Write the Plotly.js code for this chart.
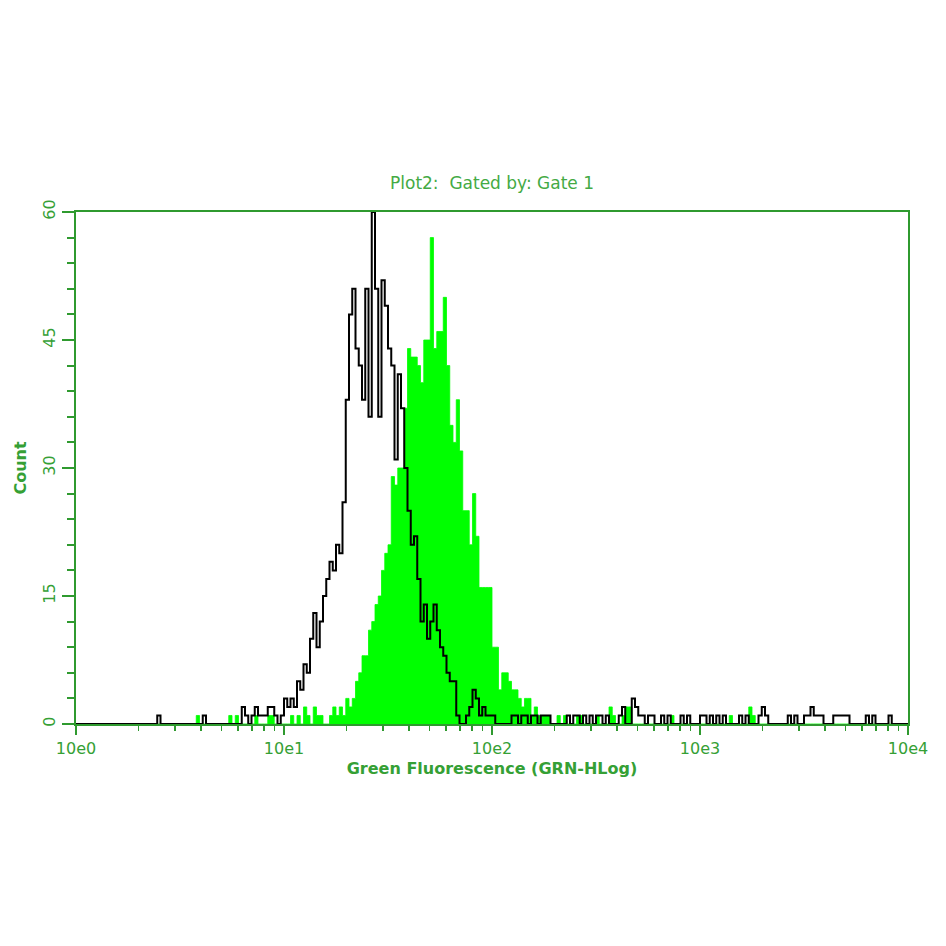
<!DOCTYPE html>
<html>
<head>
<meta charset="utf-8">
<script src="https://cdn.plot.ly/plotly-3.0.1.min.js"></script>
<style>html,body{margin:0;padding:0;background:#fff;}#chart{width:946px;height:946px;}</style>
</head>
<body>
<div id="chart"></div>
<script>
// 256 log channels spanning 10e0 .. 10e4
const channelCount = 256;
const decades = 4;

// Gated sample (green, filled) counts per channel
const greenCounts = [
  0,0,0,0,0,0,0,0,0,0,0,0,0,0,0,0,
  0,0,0,0,0,0,0,0,0,0,0,0,0,0,0,0,
  0,0,0,0,0,1,0,0,0,0,0,0,0,0,0,1,
  0,1,0,0,0,0,0,1,0,0,0,1,1,0,0,0,
  0,0,1,0,1,0,2,1,0,2,1,1,0,0,1,2,
  1,2,1,3,2,3,5,6,8,8,11,12,14,15,18,20,
  21,29,28,30,30,37,44,43,43,42,40,45,45,57,44,46,
  46,50,42,35,33,38,32,25,25,21,27,22,16,16,16,16,
  9,9,4,6,6,5,4,4,3,2,3,3,1,2,1,1,
  1,1,0,0,1,0,1,0,0,0,1,1,0,0,0,0,
  1,0,0,0,2,1,0,0,1,2,2,0,0,0,0,0,
  0,0,0,0,0,0,0,1,0,0,0,0,0,0,0,0,
  0,0,0,0,0,0,0,0,0,1,0,0,0,0,0,2,
  1,0,0,0,0,0,0,0,0,0,0,0,0,0,0,0,
  0,0,0,0,0,0,0,0,0,0,0,0,0,0,0,0,
  0,0,0,0,0,0,0,0,0,0,0,0,0,0,0,0
];

// Control (black outline) counts per channel
const blackCounts = [
  0,0,0,0,0,0,0,0,0,0,0,0,0,0,0,0,
  0,0,0,0,0,0,0,0,0,1,0,0,0,0,0,0,
  0,0,0,0,0,0,0,1,0,0,0,0,0,0,0,0,
  0,0,0,2,1,0,1,2,1,1,1,2,2,1,0,1,
  3,2,3,2,5,4,7,6,10,13,9,12,15,17,19,18,
  21,20,26,38,48,51,44,42,38,51,36,60,51,36,52,49,
  44,42,31,41,37,30,25,21,22,17,12,14,10,12,14,11,
  9,8,6,5,5,1,0,0,1,2,4,3,1,2,1,1,
  1,0,0,0,0,0,1,1,0,1,1,0,1,1,0,1,
  1,1,0,0,0,0,0,1,0,1,1,0,1,0,1,0,
  1,1,0,1,0,0,0,1,2,0,0,3,2,1,1,0,
  1,1,0,0,1,0,1,0,0,0,1,0,1,0,0,0,
  1,1,0,1,0,1,0,1,0,0,0,0,1,0,1,0,
  0,0,1,2,1,0,0,0,0,0,0,1,0,1,0,0,
  1,1,2,1,1,1,0,0,0,1,1,1,1,1,0,0,
  0,0,0,1,0,1,0,0,0,0,1,0,0,0,0,0
];

const xTickVals = [1, 10, 100, 1000, 10000];
const xTickText = ["10e0", "10e1", "10e2", "10e3", "10e4"];
const yTickVals = [0, 15, 30, 45, 60];

const titleText = "Plot2:&nbsp; Gated by: Gate 1";
const xTitle = "Green Fluorescence (GRN-HLog)";
const yTitle = "Count";

// channel -> linear value on log axis
function chanToValue(ch) { return Math.pow(10, ch * decades / channelCount); }

function stepData(counts) {
  const xs = [], ys = [];
  for (let i = 0; i < counts.length; i++) { xs.push(chanToValue(i)); ys.push(counts[i]); }
  xs.push(chanToValue(counts.length)); ys.push(counts[counts.length - 1]);
  return {xs, ys};
}

const g = stepData(greenCounts);
const b = stepData(blackCounts);

const minorX = [];
for (let d = 0; d < decades; d++) for (let k = 2; k <= 9; k++) minorX.push(k * Math.pow(10, d));

const axisGreen = '#2f9a2f';
const textGreen = '#35a035';
const fontFam = '"DejaVu Sans", "Liberation Sans", sans-serif';

const traces = [
  {
    x: g.xs, y: g.ys, type: 'scatter', mode: 'lines',
    line: {shape: 'hv', color: '#00ff00', width: 0.8},
    fill: 'tozeroy', fillcolor: '#00ff00',
    hoverinfo: 'skip', showlegend: false
  },
  {
    x: b.xs, y: b.ys, type: 'scatter', mode: 'lines',
    line: {shape: 'hv', color: '#000000', width: 2},
    hoverinfo: 'skip', showlegend: false
  }
];

const layout = {
  width: 946, height: 946,
  paper_bgcolor: '#ffffff', plot_bgcolor: '#ffffff',
  margin: {l: 76, r: 38, t: 212, b: 222, pad: 0},
  showlegend: false,
  font: {family: fontFam, color: textGreen, size: 16},
  title: {
    text: titleText, x: 0.5, xref: 'paper', xanchor: 'center',
    y: 1 - 183 / 946, yref: 'container', yanchor: 'middle',
    font: {family: fontFam, size: 17, color: '#44aa44'}
  },
  xaxis: {
    type: 'log', range: [0, decades],
    tickmode: 'array', tickvals: xTickVals, ticktext: xTickText,
    ticks: 'outside', ticklen: 9, tickwidth: 2, tickcolor: axisGreen,
    ticklabelstandoff: 0,
    minor: {tickmode: 'array', tickvals: minorX, ticks: 'outside', ticklen: 5, tickwidth: 1.5, tickcolor: axisGreen, showgrid: false},
    showline: true, linecolor: axisGreen, linewidth: 2, mirror: true,
    showgrid: false, zeroline: false,
    tickfont: {family: fontFam, size: 16, color: textGreen},
    title: {text: xTitle, standoff: 6, font: {family: fontFam, size: 16, color: textGreen, weight: 'bold'}}
  },
  yaxis: {
    range: [0, 60],
    tickmode: 'array', tickvals: yTickVals,
    ticks: 'outside', ticklen: 12, tickwidth: 2, tickcolor: axisGreen,
    ticklabelstandoff: 1,
    minor: {dtick: 3, ticks: 'outside', ticklen: 7, tickwidth: 2, tickcolor: axisGreen, showgrid: false},
    tickangle: -90,
    showline: true, linecolor: axisGreen, linewidth: 2, mirror: true,
    showgrid: false, zeroline: false,
    tickfont: {family: fontFam, size: 16, color: textGreen},
    title: {text: yTitle, standoff: 9, font: {family: fontFam, size: 16, color: textGreen, weight: 'bold'}}
  }
};

Plotly.newPlot('chart', traces, layout, {staticPlot: true, displayModeBar: false});
</script>
</body>
</html>
